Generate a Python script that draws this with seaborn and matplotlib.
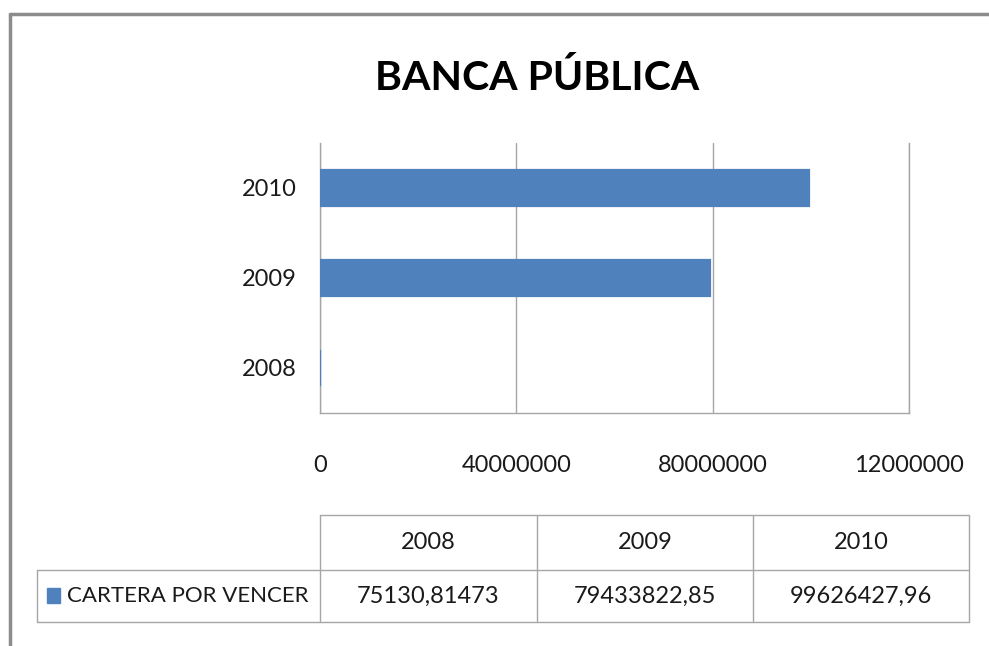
import matplotlib
matplotlib.use("Agg")
import matplotlib.pyplot as plt
import seaborn as sns

# datos del gráfico
years = ["2008", "2009", "2010"]
cartera = [75130.81473, 79433822.85, 99626427.96]
serie = "CARTERA POR VENCER"
titulo = "BANCA PÚBLICA"
xticks = [0, 40000000, 80000000, 120000000]
xtick_labels = ["0", "40000000", "80000000", "12000000"]

sns.set_style("white")
plt.rcParams["font.family"] = ["Lato", "DejaVu Sans"]

azul = "#4F81BD"
gris = "#A6A6A6"
texto = "#1A1A1A"
W, H = 989, 646

fig = plt.figure(figsize=(W / 100, H / 100), dpi=100)

# capa de fondo en pixeles para el marco y la tabla
bg = fig.add_axes([0, 0, 1, 1])
bg.set_xlim(0, W)
bg.set_ylim(H, 0)
bg.axis("off")
bg.plot([10, W], [14, 14], color="#8C8C8C", lw=2.5)
bg.plot([10, 10], [14, H], color="#8C8C8C", lw=2.5)

# area del grafico
ax = fig.add_axes([320 / W, (H - 413) / H, 589 / W, 270 / H])
sns.barplot(x=cartera, y=years, order=years[::-1], orient="h",
            color=azul, width=0.39, edgecolor=azul, linewidth=1.6,
            saturation=1, ax=ax)
for p in ax.patches:
    p.set_zorder(3)  # encima del eje para que se vea la barra de 2008
ax.set_xlim(0, 120000000)
ax.set_ylim(2.5, -0.5)
ax.set_xticks(xticks)
ax.set_xticklabels(xtick_labels)
ax.xaxis.grid(True, color=gris, lw=1)
ax.set_axisbelow(True)
ax.tick_params(axis="x", length=0, pad=30, labelsize=17, colors=texto)
ax.tick_params(axis="y", length=0, pad=17, labelsize=17, colors=texto)
ax.set_xlabel("")
ax.set_ylabel("")
for s in ["left", "bottom", "right"]:
    ax.spines[s].set_color(gris)
    ax.spines[s].set_linewidth(1)
ax.spines["top"].set_visible(False)

fig.text(537 / W, 1 - 78 / H, titulo, ha="center", va="center",
         fontsize=29.5, fontweight="bold", color="black")

# tabla de datos
cols = [320, 537, 753, 969]
top, mid, bot = 515, 570, 622
lc = "#A6A6A6"
bg.plot([cols[0], cols[-1]], [top, top], color=lc, lw=1)
bg.plot([37, cols[-1]], [mid, mid], color=lc, lw=1)
bg.plot([37, cols[-1]], [bot, bot], color=lc, lw=1)
bg.plot([37, 37], [mid, bot], color=lc, lw=1)
for c in cols:
    bg.plot([c, c], [top, bot], color=lc, lw=1)
for i, (yr, v) in enumerate(zip(years, cartera)):
    cx = (cols[i] + cols[i + 1]) / 2
    bg.text(cx, (top + mid) / 2, yr, ha="center", va="center",
            fontsize=17, color=texto)
    bg.text(cx, (mid + bot) / 2, str(v).replace(".", ","), ha="center",
            va="center", fontsize=17, color=texto)
bg.add_patch(plt.Rectangle((47, 588), 13, 15, color=azul))
bg.text(67, (mid + bot) / 2, serie, ha="left", va="center",
        fontsize=16, color=texto)

fig.savefig("out.png", dpi=100)
